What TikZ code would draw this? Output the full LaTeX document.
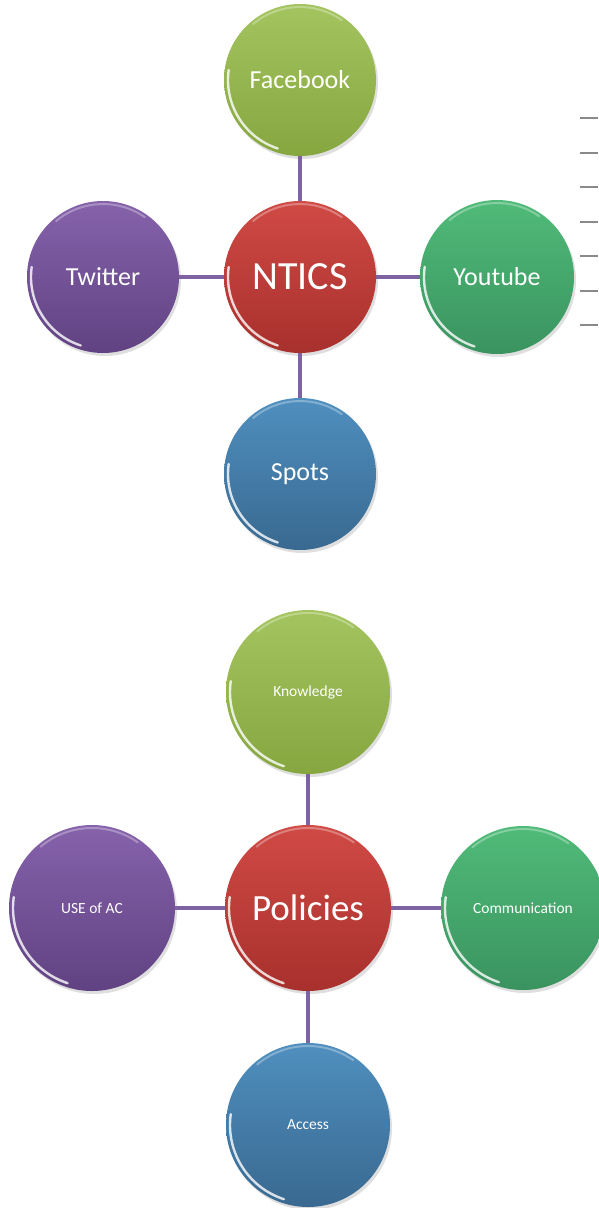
\documentclass[tikz,border=0pt]{standalone}
\usepackage{fontspec}
\setmainfont{Carlito}
\usetikzlibrary{shadows}
\definecolor{linkpurple}{HTML}{7E62A1}
\definecolor{ruleg}{HTML}{8A8A8A}
\definecolor{gA}{HTML}{A3C45E}\definecolor{gB}{HTML}{86A740}
\definecolor{rA}{HTML}{D04A45}\definecolor{rB}{HTML}{A8302D}
\definecolor{pA}{HTML}{8662AB}\definecolor{pB}{HTML}{604282}
\definecolor{tA}{HTML}{50BB79}\definecolor{tB}{HTML}{3A935F}
\definecolor{bA}{HTML}{4F8FBF}\definecolor{bB}{HTML}{396990}
\tikzset{
  ball/.style n args={3}{circle, inner sep=0pt, minimum size=2*#3 pt,
    top color=#1, bottom color=#2, text=white,
    drop shadow={opacity=0.25, shadow xshift=2pt, shadow yshift=-3pt},
    path picture={
      \draw[white, opacity=0.8, line width=2.4pt, line cap=round]
        ([shift={(108:#3-4)}]path picture bounding box.center) arc (108:188:#3-4);
      \draw[white, opacity=0.3, line width=2pt, line cap=round]
        ([shift={(230:#3-3)}]path picture bounding box.center) arc (230:305:#3-3);
    }},
  link/.style={draw=linkpurple, line width=4.5pt},
  big/.style={font=\fontsize{26}{30}\selectfont},
  huge/.style={font=\fontsize{40}{46}\selectfont},
  small/.style={font=\fontsize{15.5}{18}\selectfont},
  rulemark/.style={draw=ruleg, line width=1.5pt}
}
\begin{document}
\begin{tikzpicture}[x=1pt,y=-1pt]
\useasboundingbox (0,0) rectangle (598,1208);
% top diagram
\node[ball={rA}{rB}{76}, huge] (ntics) at (300,277) {NTICS};
\node[ball={gA}{gB}{76}, big] (fb) at (300,80) {Facebook};
\node[ball={pA}{pB}{76}, big] (tw) at (103,277) {Twitter};
\node[ball={tA}{tB}{77}, big] (yt) at (497,277) {Youtube};
\node[ball={bA}{bB}{76}, big] (sp) at (300,474) {Spots};
\draw[link] (ntics) -- (fb);
\draw[link] (ntics) -- (tw);
\draw[link] (ntics) -- (yt);
\draw[link] (ntics) -- (sp);
% marks at the right
\foreach \yy in {118,153,187,222,256,291,325}
  \draw[rulemark] (580,\yy) -- (598,\yy);
% bottom diagram
\node[ball={rA}{rB}{83}, font=\fontsize{37}{42}\selectfont] (pol) at (308,908) {Policies};
\node[ball={gA}{gB}{82}, small] (kn) at (308,692) {Knowledge};
\node[ball={pA}{pB}{83}, small] (use) at (92,908) {USE of AC};
\node[ball={tA}{tB}{82}, small] (com) at (523,908) {Communication};
\node[ball={bA}{bB}{82}, small] (acc) at (308,1125) {Access};
\draw[link] (pol) -- (kn);
\draw[link] (pol) -- (use);
\draw[link] (pol) -- (com);
\draw[link] (pol) -- (acc);
\end{tikzpicture}
\end{document}
